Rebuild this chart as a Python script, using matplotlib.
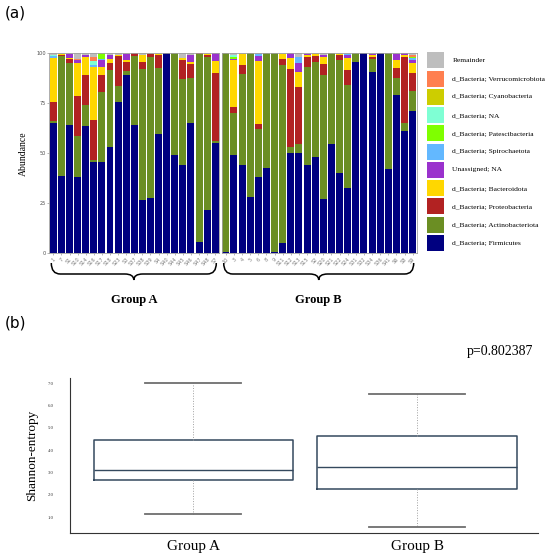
import matplotlib
matplotlib.use("Agg")
import matplotlib.pyplot as plt
from matplotlib.path import Path
from matplotlib.patches import PathPatch, Rectangle
import numpy as np

# ---------------- data: panel (a) ----------------
samples_A = ["1", "7", "S1", "S10", "S14", "S16", "S17", "S18", "S23", "S3", "S37",
             "S38", "S39", "S4", "S40", "S44", "S45", "S46", "S47", "S48", "S7"]
samples_B = ["10", "3", "4", "5", "6", "8", "9", "S11", "S12", "S13", "S15", "S2",
             "S20", "S21", "S22", "S24", "S31", "S32", "S34", "S36", "S41", "S6", "S8", "S9"]

taxa = ["d_Bacteria; Firmicutes", "d_Bacteria; Actinobacteriota", "d_Bacteria; Proteobacteria",
        "d_Bacteria; Bacteroidota", "Unassigned; NA", "d_Bacteria; Spirochaetota",
        "d_Bacteria; Patescibacteria", "d_Bacteria; NA", "d_Bacteria; Cyanobacteria",
        "d_Bacteria; Verrucomicrobiota", "Remainder"]
colors = ["#000080", "#6B8E23", "#B22222", "#FFD700", "#9A32CD", "#63B8FF",
          "#7FFF00", "#7FFFD4", "#CDCD00", "#FF7F50", "#BEBEBE"]

firm_A  = [65, 38.7, 64, 38, 63.7, 45.7, 45.7, 53, 75.8, 89.2, 64, 26.7, 27.7, 59.7, 100, 49, 44, 65, 5.5, 21.7, 55]
act_A   = [1, 60, 31.3, 20.7, 10.6, 1, 35.1, 38.7, 8, 2, 34.7, 65.3, 70.3, 33.1, 0, 51, 43, 22.5, 94.2, 76.3, 1.3]
prot_A  = [9.5, 0.5, 1.7, 20.1, 15, 20, 8.5, 3.6, 14.9, 4.6, 1.3, 3.7, 1.7, 6.2, 0, 0, 9.7, 7, 0.3, 1.2, 33.7]
bact_A  = [22, 0.3, 0.5, 16.2, 9, 26.6, 4, 1.7, 0.5, 0.9, 0, 3.3, 0, 0.5, 0, 0, 1, 1.3, 0, 0.5, 6.3]
unas_A  = [0, 0, 2.2, 1.5, 0.9, 0, 3.3, 2, 0, 2.8, 0, 0, 0, 0, 0, 0, 0, 3.2, 0, 0, 3.7]
spir_A  = [1.2, 0, 0, 0, 0, 0.8, 0.6, 0, 0, 0, 0, 0, 0, 0, 0, 0, 0, 0, 0, 0, 0]
pate_A  = [0, 0, 0, 0, 0, 0, 2.8, 0, 0, 0, 0, 0, 0, 0, 0, 0, 0, 0, 0, 0, 0]
bna_A   = [0.3, 0, 0, 0, 0, 2.1, 0, 0, 0, 0, 0, 0, 0, 0, 0, 0, 0, 0, 0, 0, 0]
cyan_A  = [0, 0, 0, 0, 0, 0, 0, 0, 0, 0, 0, 0, 0, 0, 0, 0, 0, 0, 0, 0, 0]
verr_A  = [0, 0.3, 0, 0.8, 0, 1.8, 0, 0, 0, 0, 0, 0, 0, 0, 0, 0, 0, 0, 0, 0, 0]
rem_A   = [1.0, 0.2, 0.3, 2.7, 0.8, 2.0, 0, 1.0, 0.8, 0.5, 0, 1.0, 0.3, 0.5, 0, 0, 2.3, 1.0, 0, 0.3, 0]

firm_B  = [0.8, 49.2, 44.2, 28, 38.3, 42.5, 0.7, 5, 50.3, 50, 44.2, 48.2, 27, 54.8, 40.3, 32.7, 95.8, 100, 90.7, 100, 42.3, 79.2, 61.3, 71.2]
act_B   = [99.2, 21.1, 45.5, 72, 23.7, 57.5, 99.3, 89, 2.7, 4.7, 49.1, 47.6, 62.2, 45.2, 56.4, 51.5, 4.2, 0, 6.6, 0, 57.7, 8.3, 4, 10.1]
prot_B  = [0, 3, 4.6, 0, 2.7, 0, 0, 3, 39.3, 28.3, 5, 2.9, 5.5, 0, 2.6, 7.5, 0, 0, 1.0, 0, 0, 5, 33, 8.7]
bact_B  = [0, 23.4, 5.2, 0, 31.6, 0, 0, 2.5, 5.4, 7.8, 0.7, 0.8, 3.3, 0, 0.4, 6, 0, 0, 0.7, 0, 0, 4.2, 1, 5.3]
unas_B  = [0, 0.5, 0, 0, 2.4, 0, 0, 0, 2.3, 4.5, 0.5, 0, 1.2, 0, 0, 1.3, 0, 0, 0.5, 0, 0, 3, 0.7, 1.4]
spir_B  = [0, 0, 0, 0, 0.8, 0, 0, 0, 0, 2.7, 0, 0, 0, 0, 0, 0.5, 0, 0, 0, 0, 0, 0, 0, 0.8]
pate_B  = [0, 0.7, 0, 0, 0, 0, 0, 0, 0, 0, 0, 0, 0, 0, 0, 0, 0, 0, 0, 0, 0, 0, 0, 0.8]
bna_B   = [0, 1.1, 0, 0, 0, 0, 0, 0, 0, 0, 0, 0, 0, 0, 0, 0, 0, 0, 0, 0, 0, 0, 0, 0]
cyan_B  = [0, 0, 0, 0, 0, 0, 0, 0, 0, 0, 0, 0, 0, 0, 0, 0, 0, 0, 0, 0, 0, 0, 0, 0]
verr_B  = [0, 0, 0, 0, 0, 0, 0, 0, 0, 0, 0, 0, 0, 0, 0, 0, 0, 0, 0, 0, 0, 0, 0, 1.0]
rem_B   = [0, 1.0, 0.5, 0, 0.5, 0, 0, 0.5, 0, 2.0, 0.5, 0.5, 0.8, 0, 0.3, 0.5, 0, 0, 0.5, 0, 0, 0.3, 0, 0.7]

groups = ["Group A", "Group B"]

# ---------------- data: panel (b) ----------------
box_groups = ["Group A", "Group B"]
whisker_low = [1.16, 0.58]
q1_vals = [2.67, 2.25]
medians = [3.10, 3.24]
q3_vals = [4.46, 4.65]
whisker_high = [7.02, 6.50]
p_value = "p=0.802387"
shannon_ticks = [1.0, 2.0, 3.0, 4.0, 5.0, 6.0, 7.0]

SERIF = ["Liberation Serif", "DejaVu Serif"]

W, H = 550, 560
fig = plt.figure(figsize=(5.5, 5.6), dpi=100)


def fx(px):
    return px / W


def fy(py):
    return 1 - py / H


top_px, bot_px = 53.3, 253.3
axA = fig.add_axes([fx(49.3), fy(bot_px), fx(219.3) - fx(49.3), (bot_px - top_px) / H])
axB = fig.add_axes([fx(221.7), fy(bot_px), fx(416.7) - fx(221.7), (bot_px - top_px) / H])

layers_A = [firm_A, act_A, prot_A, bact_A, unas_A, spir_A, pate_A, bna_A, cyan_A, verr_A, rem_A]
layers_B = [firm_B, act_B, prot_B, bact_B, unas_B, spir_B, pate_B, bna_B, cyan_B, verr_B, rem_B]

for ax, names, layers in [(axA, samples_A, layers_A), (axB, samples_B, layers_B)]:
    x = np.arange(len(names))
    bottom = np.zeros(len(names))
    for vals, col in zip(layers, colors):
        v = np.array(vals, dtype=float)
        ax.bar(x, v, bottom=bottom, width=0.86, color=col, edgecolor="none", linewidth=0)
        bottom += v
    ax.set_xlim(-0.5, len(names) - 0.5)
    ax.set_ylim(0, 100)
    ax.set_xticks(x)
    ax.set_xticklabels(names, rotation=45, ha="right", rotation_mode="anchor",
                       fontsize=3.6, color="#7F7F7F")
    ax.tick_params(axis="x", length=1.5, width=0.4, color="#7F7F7F", pad=1)
    for s in ax.spines.values():
        s.set_color("#A0A0A0")
        s.set_linewidth(0.6)

axA.set_yticks([0, 25, 50, 75, 100])
axA.set_yticklabels(["0", "25", "50", "75", "100"], fontsize=3.6, color="#4D4D4D")
axA.tick_params(axis="y", length=1.5, width=0.4, color="#7F7F7F", pad=1)
axA.set_ylabel("Abundance", fontsize=7, family=SERIF, labelpad=6)
axB.set_yticks([])

# braces and group labels
def brace(x0, x1, ytop=263, ymid=274, ytip=280, r=9):
    xm = (x0 + x1) / 2
    pts = [(x0, ytop), (x0, ymid), (x0 + r, ymid), (xm - r, ymid), (xm, ymid), (xm, ytip),
           (xm, ymid), (xm + r, ymid), (x1 - r, ymid), (x1, ymid), (x1, ytop)]
    codes = [Path.MOVETO, Path.CURVE3, Path.CURVE3, Path.LINETO, Path.CURVE3, Path.CURVE3,
             Path.CURVE3, Path.CURVE3, Path.LINETO, Path.CURVE3, Path.CURVE3]
    path = Path([(fx(a), fy(b)) for a, b in pts], codes)
    fig.patches.append(PathPatch(path, transform=fig.transFigure, facecolor="none",
                                 edgecolor="black", linewidth=1.1))
    return xm

for ax, label in zip([axA, axB], groups):
    bb = ax.get_position()
    x0, x1 = bb.x0 * W + 2, bb.x1 * W - 3
    xm = brace(x0, x1)
    fig.text(fx(xm), fy(300), label, ha="center", va="center", fontsize=9,
             fontweight="bold", family=SERIF)

# legend (manual to match ggplot style)
leg_top = 52.3
step = 18.27
for i, (name, col) in enumerate(zip(taxa[::-1], colors[::-1])):
    y0 = leg_top + i * step
    fig.patches.append(Rectangle((fx(427.3), fy(y0 + 16)), 17 / W, 16 / H,
                                 transform=fig.transFigure, facecolor=col, edgecolor="none"))
    fig.text(fx(452.3), fy(y0 + 8), name, ha="left", va="center", fontsize=5.4, family=SERIF)

fig.text(fx(5), fy(13), "(a)", ha="left", va="center", fontsize=11)
fig.text(fx(5), fy(323), "(b)", ha="left", va="center", fontsize=11)

# ---------------- panel (b) ----------------
axC = fig.add_axes([fx(70), fy(533.3), fx(538) - fx(70), (533.3 - 378.3) / H])
stats = []
for i, g in enumerate(box_groups):
    stats.append(dict(label=g, whislo=whisker_low[i], q1=q1_vals[i], med=medians[i],
                      q3=q3_vals[i], whishi=whisker_high[i], fliers=[]))
axC.bxp(stats, positions=[1, 2], widths=0.89, showfliers=False,
        boxprops=dict(color="#34495E", linewidth=1.1),
        medianprops=dict(color="#34495E", linewidth=1.0),
        whiskerprops=dict(color="#A0A0A0", linewidth=0.7, linestyle=":"),
        capprops=dict(color="#6E6E6E", linewidth=1.3),
        capwidths=0.43)
axC.set_xlim(0.45, 2.54)
axC.set_ylim(0.28, 7.22)
axC.set_yticks(shannon_ticks)
axC.set_yticklabels([f"{t:.1f}" for t in shannon_ticks], fontsize=3.4, family=SERIF, color="#333333")
axC.tick_params(axis="y", length=0, pad=12)
axC.tick_params(axis="x", length=0, pad=5)
axC.set_xticklabels(box_groups, fontsize=11, family=SERIF)
axC.set_ylabel("Shannon-entropy", fontsize=9.5, family=SERIF, labelpad=7)
for s in ["top", "right"]:
    axC.spines[s].set_visible(False)
for s in ["left", "bottom"]:
    axC.spines[s].set_color("#333333")
    axC.spines[s].set_linewidth(0.8)

fig.text(fx(533), fy(352), p_value, ha="right", va="center", fontsize=10, family=SERIF)

fig.savefig("out.png", dpi=100)
